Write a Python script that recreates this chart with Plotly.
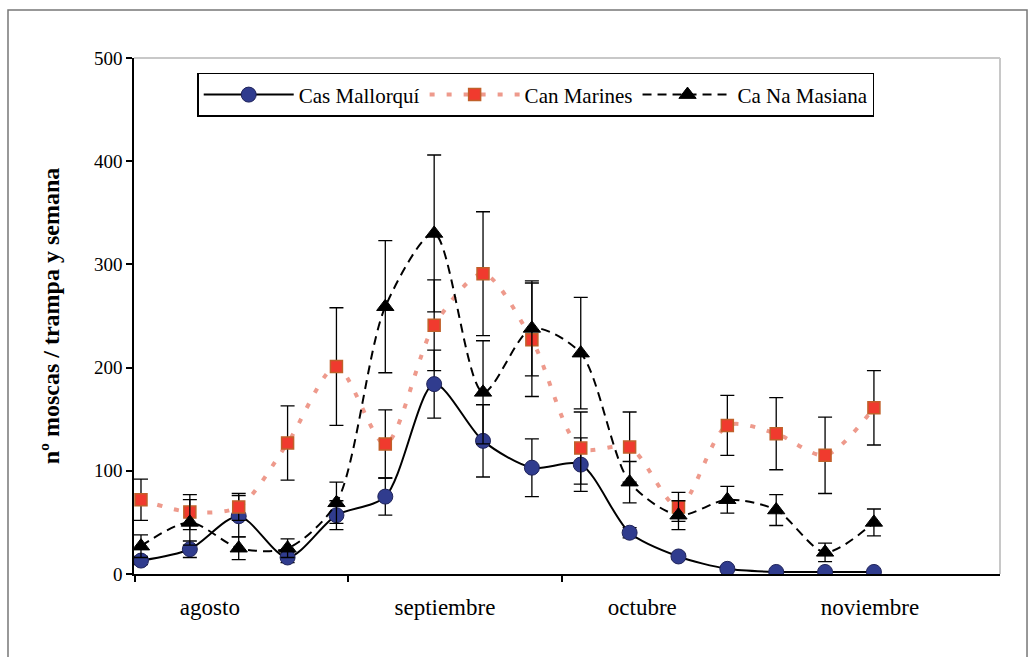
import plotly.graph_objects as go

weeks = list(range(16))

mallorqui = [13, 24, 56, 16, 57, 75, 184, 129, 103, 106, 40, 17, 5, 2, 2, 2]
mallorqui_err = [4, 8, 20, 5, 14, 18, 33, 35, 28, 26, 5, 3, 2, 1, 1, 1]

marines = [72, 60, 65, 127, 201, 126, 241, 291, 227, 122, 123, 65, 144, 136, 115, 161]
marines_err = [20, 17, 13, 36, 57, 33, 44, 60, 55, 35, 34, 14, 29, 35, 37, 36]

masiana = [27, 50, 25, 25, 69, 259, 330, 176, 238, 214, 89, 57, 72, 62, 21, 50]
masiana_err = [11, 22, 11, 9, 20, 64, 76, 50, 46, 54, 20, 14, 13, 15, 9, 13]

month_labels = ["agosto", "septiembre", "octubre", "noviembre"]
month_label_pos = [1.41, 6.22, 10.26, 14.92]
month_tick_pos = [-0.12, 4.24, 8.62]

yticks = [0, 100, 200, 300, 400, 500]

serif = "Liberation Serif, Times New Roman, serif"

fig = go.Figure()

fig.add_trace(go.Scatter(
    x=weeks, y=mallorqui, name="Cas Mallorquí", mode="lines+markers",
    line=dict(color="black", width=2, shape="spline", smoothing=0.8),
    marker=dict(symbol="circle", size=15, color="#303C8E",
                line=dict(color="#20245A", width=1)),
    error_y=dict(type="data", array=mallorqui_err, visible=True,
                 color="black", thickness=1.3, width=7),
))

fig.add_trace(go.Scatter(
    x=weeks, y=marines, name="Can Marines", mode="lines+markers",
    line=dict(color="#EE9A8C", width=4, dash="5px,12px", shape="spline", smoothing=0.8),
    marker=dict(symbol="square", size=12, color="#F03A2E",
                line=dict(color="#C0602A", width=1.5)),
    error_y=dict(type="data", array=marines_err, visible=True,
                 color="black", thickness=1.3, width=7),
))

fig.add_trace(go.Scatter(
    x=weeks, y=masiana, name="Ca Na Masiana", mode="lines+markers",
    line=dict(color="black", width=2, dash="9px,6px", shape="spline", smoothing=0.8),
    marker=dict(symbol="triangle-up", size=15, color="black",
                line=dict(color="black", width=1)),
    error_y=dict(type="data", array=masiana_err, visible=True,
                 color="black", thickness=1.3, width=7),
))

fig.update_layout(
    width=1031, height=657,
    margin=dict(l=134, r=31, t=58, b=83, autoexpand=False),
    paper_bgcolor="white", plot_bgcolor="white",
    font=dict(family=serif, color="black", size=19),
    showlegend=True,
    legend=dict(
        orientation="h", x=0.073, y=0.971, xanchor="left", yanchor="top",
        bordercolor="black", borderwidth=1.5, bgcolor="white",
        font=dict(family=serif, size=21, color="black"),
        itemwidth=90, tracegroupgap=0,
    ),
    xaxis=dict(
        range=[-0.143, 17.58], showgrid=False, zeroline=False, automargin=False,
        showline=True, linecolor="black", linewidth=1.5,
        tickmode="array", tickvals=month_label_pos, ticktext=month_labels,
        ticks="", tickfont=dict(family=serif, size=23), ticklabelstandoff=12,
        minor=dict(tickmode="array", tickvals=month_tick_pos, ticks="outside",
                   ticklen=6, tickcolor="black", tickwidth=1.5, showgrid=False),
    ),
    yaxis=dict(
        range=[0, 500], showgrid=False, zeroline=False, automargin=False,
        showline=True, linecolor="black", linewidth=1.5,
        tickmode="array", tickvals=yticks, ticks="outside", ticklen=6,
        tickcolor="black", tickwidth=1.5, tickfont=dict(family=serif, size=19),
        title=dict(text="<b>nº moscas / trampa y semana</b>",
                   font=dict(family=serif, size=24), standoff=28),
    ),
)

# plot-area border (light grey, top and right)
fig.add_shape(type="line", xref="paper", yref="paper", x0=0, x1=1, y0=1, y1=1,
              line=dict(color="#C8C8C8", width=2))
fig.add_shape(type="line", xref="paper", yref="paper", x0=1, x1=1, y0=0, y1=1,
              line=dict(color="#C8C8C8", width=2))
# outer frame
fig.add_shape(type="rect", xref="paper", yref="paper",
              x0=-0.1455, x1=1.0312, y0=-0.2, y1=1.093,
              line=dict(color="#777777", width=1.5))

fig.write_html("out.html", config={"displayModeBar": False},
               post_script="document.body.style.margin='0';")
